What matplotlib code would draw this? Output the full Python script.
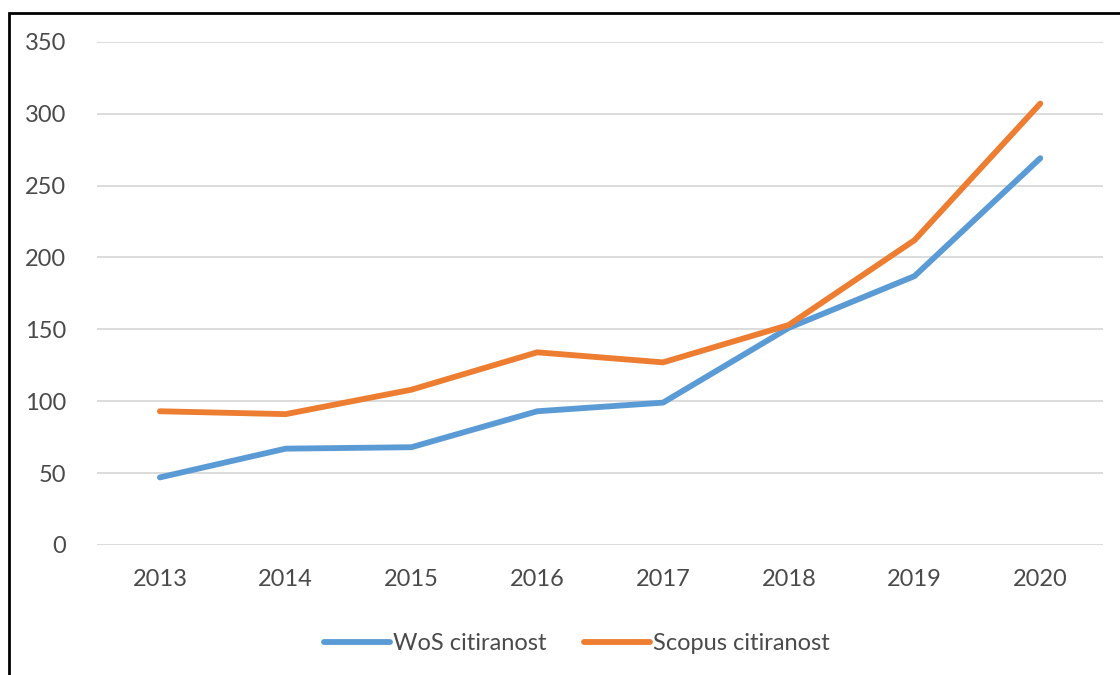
import matplotlib
matplotlib.use("Agg")
import matplotlib.pyplot as plt
from matplotlib.patches import Rectangle

years = ["2013", "2014", "2015", "2016", "2017", "2018", "2019", "2020"]
wos_citations = [47, 67, 68, 93, 99, 151, 187, 269]
scopus_citations = [93, 91, 108, 134, 127, 153, 212, 307]
y_ticks = [0, 50, 100, 150, 200, 250, 300, 350]

plt.rcParams["font.family"] = ["Lato", "DejaVu Sans"]

fig = plt.figure(figsize=(11.2, 6.75), dpi=100)
ax = fig.add_axes([0.0866, 0.1926, 0.8984, 0.7456])

x = range(len(years))
ax.plot(x, wos_citations, color="#5B9BD5", lw=4.2, solid_capstyle="round",
        solid_joinstyle="round", label="WoS citiranost", zorder=3)
ax.plot(x, scopus_citations, color="#ED7D31", lw=4.2, solid_capstyle="round",
        solid_joinstyle="round", label="Scopus citiranost", zorder=3)

ax.set_xlim(-0.5, len(years) - 0.5)
ax.set_ylim(0, 350)
ax.set_xticks(list(x))
ax.set_xticklabels(years)
ax.set_yticks(y_ticks)
ax.set_yticklabels([str(v) for v in y_ticks])

ax.grid(axis="y", color="#D9D9D9", lw=1.3)
ax.grid(axis="x", visible=False)
ax.set_axisbelow(True)
for side in ["top", "right", "left", "bottom"]:
    ax.spines[side].set_visible(False)

ax.tick_params(axis="both", length=0, labelsize=17, labelcolor="#4A4A4A")
ax.tick_params(axis="y", pad=22)
ax.tick_params(axis="x", pad=17)

leg = fig.legend(loc="center", bbox_to_anchor=(0.515, 0.047), ncol=2,
                 frameon=False, fontsize=17, handlelength=2.8,
                 handletextpad=0.1, columnspacing=1.6)
for t in leg.get_texts():
    t.set_color("#4A4A4A")

# outer chart frame (left and top edges visible)
fig.patches.append(Rectangle((8.5 / 1120, -0.05), 1.2, (675 - 12.5) / 675 + 0.05,
                             transform=fig.transFigure, fill=False,
                             edgecolor="black", lw=2.0, zorder=10))

fig.savefig("out.png", dpi=100, facecolor="white")
